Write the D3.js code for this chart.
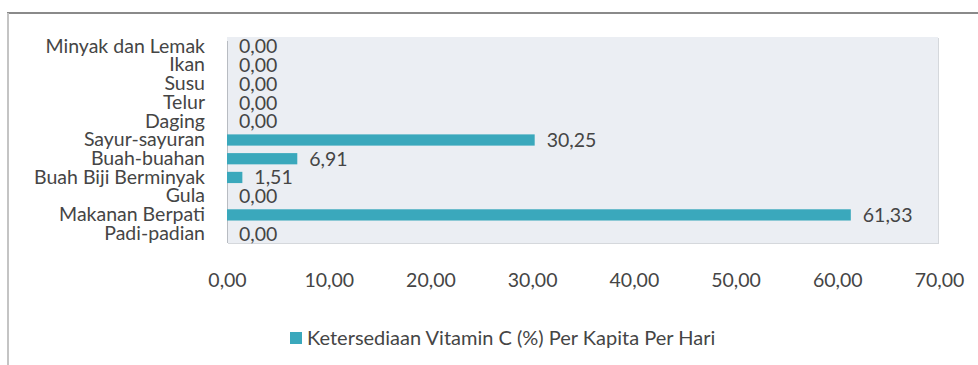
<!DOCTYPE html>
<html>
<head>
<meta charset="utf-8">
<script src="https://cdn.jsdelivr.net/npm/d3@7"></script>
<style>
  body { margin: 0; background: #fff; }
  svg { display: block; font-family: Lato, "Open Sans", sans-serif; }
</style>
</head>
<body>
<script>
const categories = ["Minyak dan Lemak", "Ikan", "Susu", "Telur", "Daging", "Sayur-sayuran",
  "Buah-buahan", "Buah Biji Berminyak", "Gula", "Makanan Berpati", "Padi-padian"];
const values = [0, 0, 0, 0, 0, 30.25, 6.91, 1.51, 0, 61.33, 0];
const xTicks = [0, 10, 20, 30, 40, 50, 60, 70];
const seriesName = "Ketersediaan Vitamin C (%) Per Kapita Per Hari";

const width = 978, height = 365;
const plotLeft = 227, plotRight = 938, plotTop = 37, plotBottom = 243;
const fontSize = 19.5;
const textColor = "#454545";
const barColor = "#3aa8bc";

const fmt = v => v.toFixed(2).replace(".", ",");
const data = categories.map((c, i) => ({name: c, value: values[i]}));

const x = d3.scaleLinear().domain([0, 70]).range([227, 939]);
const y = d3.scaleBand().domain(categories).range([plotTop, plotBottom]).paddingInner(0.4).paddingOuter(0.2);

const svg = d3.select("body").append("svg")
    .attr("width", width)
    .attr("height", height);

// outer frame
svg.append("line").attr("x1", 7).attr("x2", width).attr("y1", 13).attr("y2", 13)
    .attr("stroke", "#8a8a8a").attr("stroke-width", 2);
svg.append("line").attr("x1", 8).attr("x2", 8).attr("y1", 13).attr("y2", height)
    .attr("stroke", "#c4c4c4").attr("stroke-width", 2);

// plot area with slight shadow
svg.append("rect")
    .attr("x", plotLeft + 1).attr("y", plotTop + 1)
    .attr("width", plotRight - plotLeft).attr("height", plotBottom - plotTop)
    .attr("fill", "#d5d8dc");
svg.append("rect")
    .attr("x", plotLeft).attr("y", plotTop)
    .attr("width", plotRight - plotLeft).attr("height", plotBottom - plotTop)
    .attr("fill", "#ebeef3");

svg.append("line")
    .attr("x1", plotLeft + 0.5).attr("x2", plotLeft + 0.5)
    .attr("y1", plotTop + 4).attr("y2", plotBottom)
    .attr("stroke", "#b8bcc2");

// bars
svg.append("g")
    .attr("fill", barColor)
    .selectAll("rect")
    .data(data)
    .join("rect")
    .attr("x", x(0))
    .attr("y", d => y(d.name))
    .attr("width", d => x(d.value) - x(0))
    .attr("height", y.bandwidth());

// value labels
svg.append("g")
    .attr("font-size", fontSize)
    .attr("fill", textColor)
    .selectAll("text")
    .data(data)
    .join("text")
    .attr("x", d => x(d.value) + 12)
    .attr("y", d => y(d.name) + y.bandwidth() / 2)
    .attr("dy", "0.36em")
    .text(d => fmt(d.value));

// category axis
const yAxis = svg.append("g")
    .attr("transform", `translate(${plotLeft},0)`)
    .call(d3.axisLeft(y).tickSize(0).tickPadding(22));
yAxis.select(".domain").remove();
yAxis.selectAll("text")
    .attr("font-size", fontSize)
    .attr("font-family", "Lato, 'Open Sans', sans-serif")
    .attr("fill", textColor);

// value axis
const xAxis = svg.append("g")
    .attr("transform", `translate(0,${plotBottom})`)
    .call(d3.axisBottom(x).tickValues(xTicks).tickFormat(fmt).tickSize(0).tickPadding(30));
xAxis.select(".domain").remove();
xAxis.selectAll("text")
    .attr("font-size", fontSize)
    .attr("font-family", "Lato, 'Open Sans', sans-serif")
    .attr("fill", textColor);

// legend
const legend = svg.append("g").attr("transform", "translate(290,338)");
legend.append("rect").attr("x", 0).attr("y", -6).attr("width", 12).attr("height", 12).attr("fill", barColor);
legend.append("text")
    .attr("x", 17).attr("y", 0).attr("dy", "0.36em")
    .attr("font-size", 20)
    .attr("fill", textColor)
    .text(seriesName);
</script>
</body>
</html>
